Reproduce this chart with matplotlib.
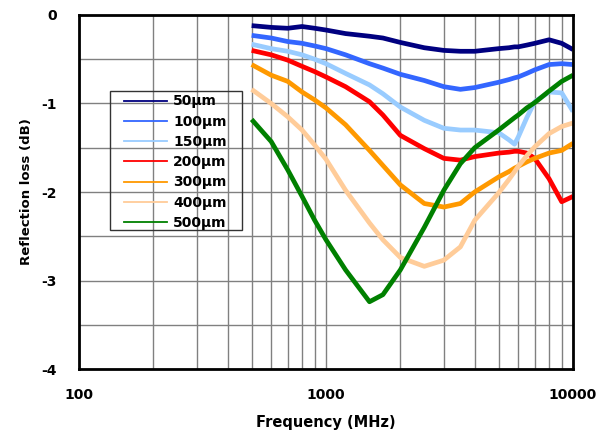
import numpy as np
import matplotlib
matplotlib.use('Agg')
import matplotlib.pyplot as plt
from matplotlib.lines import Line2D
from matplotlib.patches import Rectangle

plt.rcParams['font.family'] = ['DejaVu Sans']

# frequency grid (MHz) and reflection loss (dB) per thickness
freq = [500, 600, 700, 800, 900, 1000, 1200, 1500, 1700, 2000, 2500, 3000,
        3500, 4000, 5000, 5500, 5800, 6000, 6500, 7000, 8000, 9000, 10000]

rl_50 = [-0.12, -0.14, -0.15, -0.13, -0.15, -0.17, -0.21, -0.24, -0.26, -0.31, -0.37, -0.40,
         -0.41, -0.41, -0.38, -0.37, -0.36, -0.36, -0.34, -0.32, -0.28, -0.32, -0.39]
rl_100 = [-0.23, -0.26, -0.30, -0.32, -0.35, -0.38, -0.45, -0.55, -0.60, -0.67, -0.74, -0.81,
          -0.84, -0.82, -0.76, -0.73, -0.71, -0.70, -0.66, -0.62, -0.56, -0.55, -0.56]
rl_150 = [-0.33, -0.38, -0.41, -0.45, -0.50, -0.55, -0.66, -0.79, -0.89, -1.04, -1.19, -1.28,
          -1.30, -1.30, -1.33, -1.41, -1.46, -1.38, -1.16, -0.98, -0.87, -0.88, -1.09]
rl_200 = [-0.40, -0.45, -0.51, -0.58, -0.64, -0.70, -0.81, -0.98, -1.13, -1.36, -1.51, -1.62,
          -1.64, -1.60, -1.56, -1.55, -1.54, -1.54, -1.56, -1.62, -1.85, -2.11, -2.05]
rl_300 = [-0.56, -0.68, -0.75, -0.87, -0.96, -1.05, -1.24, -1.53, -1.70, -1.92, -2.13, -2.17,
          -2.13, -2.00, -1.83, -1.77, -1.73, -1.71, -1.66, -1.62, -1.56, -1.53, -1.45]
rl_400 = [-0.84, -1.00, -1.15, -1.30, -1.47, -1.63, -1.98, -2.35, -2.54, -2.74, -2.84, -2.77,
          -2.62, -2.32, -2.01, -1.86, -1.77, -1.71, -1.59, -1.49, -1.34, -1.26, -1.22]
rl_500 = [-1.18, -1.43, -1.75, -2.05, -2.32, -2.54, -2.88, -3.24, -3.16, -2.88, -2.40, -1.98,
          -1.68, -1.50, -1.30, -1.21, -1.16, -1.13, -1.05, -0.99, -0.86, -0.75, -0.68]

labels = ['50µm', '100µm', '150µm', '200µm', '300µm', '400µm', '500µm']
colors = ['#000080', '#3366FF', '#99CCFF', '#FF0000', '#FF9900', '#FFCC99', '#008000']
series = [rl_50, rl_100, rl_150, rl_200, rl_300, rl_400, rl_500]

W, H = 614, 440
fig = plt.figure(figsize=(W / 100, H / 100), dpi=100)
ax = fig.add_axes([79 / W, 1 - 369 / H, 494 / W, 354 / H])

for y, c in zip(series, colors):
    ax.plot(freq, y, color=c, lw=3.4, solid_capstyle='butt', zorder=3)

ax.set_xscale('log')
ax.set_xlim(100, 10000)
ax.set_ylim(-4, 0)

# grid: minor log lines on x, every 0.5 dB on y
ax.set_yticks([0, -1, -2, -3, -4])
ax.set_yticks(np.arange(-4, 0.01, 0.5), minor=True)
ax.grid(True, which='both', color='#808080', lw=1.0, zorder=1)
ax.set_xticks([100, 1000, 10000])
ax.set_xticklabels(['100', '1000', '10000'])
ax.set_yticklabels(['0', '-1', '-2', '-3', '-4'])
ax.tick_params(which='both', length=0)
ax.tick_params(axis='x', pad=14, labelsize=10)
ax.tick_params(axis='y', pad=16, labelsize=10)
for lab in ax.get_xticklabels() + ax.get_yticklabels():
    lab.set_fontweight('bold')

for s in ax.spines.values():
    s.set_linewidth(2.0)
    s.set_color('black')
    s.set_zorder(4)

ax.set_xlabel('Frequency (MHz)', fontsize=10.5, fontweight='bold', labelpad=9)
ax.set_ylabel('Reflection loss (dB)', fontsize=9.5, fontweight='bold', labelpad=6)

# legend: transparent, with a separate square box
handles = [Line2D([], [], color=c, lw=1.3) for c in colors]
leg = fig.legend(handles, labels, loc='upper left',
                 bbox_to_anchor=(123 / W, 1 - 93 / H), borderaxespad=0,
                 frameon=False, handlelength=3.1, handletextpad=0.4,
                 labelspacing=0.45, borderpad=0.1,
                 prop={'size': 10, 'weight': 'bold'})
fig.patches.append(Rectangle((110 / W, 1 - 230 / H), 132 / W, 139 / H,
                             transform=fig.transFigure, fill=False,
                             edgecolor='#333333', lw=1.0, zorder=5))

fig.savefig('out.png', dpi=100)
